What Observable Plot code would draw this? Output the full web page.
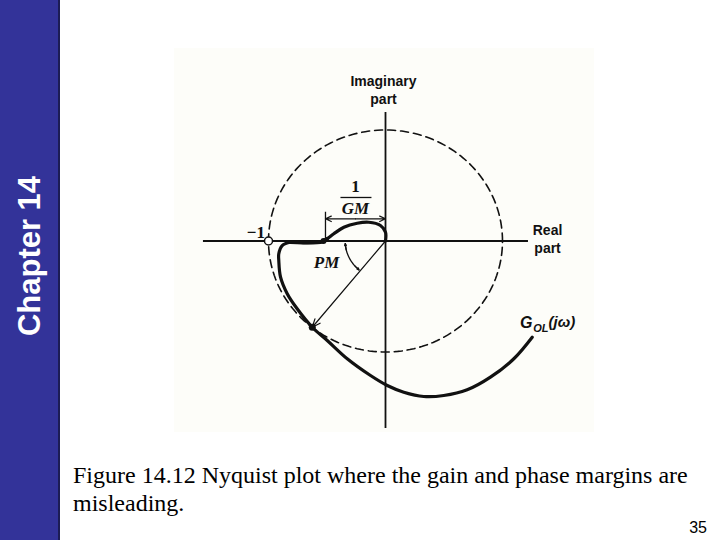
<!DOCTYPE html>
<html>
<head>
<meta charset="utf-8">
<script src="https://cdn.jsdelivr.net/npm/d3@7"></script>
<script src="https://cdn.jsdelivr.net/npm/@observablehq/plot@0.6"></script>
<style>
  html, body { margin: 0; padding: 0; background: #ffffff; }
  #page { position: relative; width: 720px; height: 540px; overflow: hidden; background: #ffffff; }
  #bar { position: absolute; left: 0; top: 0; width: 60px; height: 540px; background: #333399; border-right: 2px solid #1c1c55; box-sizing: border-box; }
  #chapter { position: absolute; left: 30px; top: 256px; transform: translate(-50%, -50%) rotate(-90deg); color: #ffffff; font: bold 31px "Liberation Sans", Arial, sans-serif; white-space: nowrap; }
  #chart { position: absolute; left: 174px; top: 48px; }
  #caption { position: absolute; left: 73px; top: 461px; width: 640px; font: 24px/28px "Liberation Serif", "Times New Roman", serif; color: #000; }
  #pagenum { position: absolute; right: 13px; top: 519px; font: 16px "Liberation Sans", Arial, sans-serif; color: #000; }
</style>
</head>
<body>
<div id="page">
  <div id="bar"><div id="chapter">Chapter 14</div></div>
  <div id="chart"></div>
  <div id="caption">Figure 14.12 Nyquist plot where the gain and phase margins are misleading.</div>
  <div id="pagenum">35</div>
</div>
<script>
// Open-loop frequency response G_OL(jω) (real, imaginary)
const curveRe = [0, 0, -0.043, -0.143, -0.242, -0.356, -0.442, -0.498, -0.540, -0.698, -0.812, -0.883, -0.912, -0.912, -0.897, -0.840, -0.755, -0.626, -0.498, -0.327, -0.128, 0.015, 0.156, 0.327, 0.498, 0.698, 0.897, 1.097, 1.254];
const curveIm = [0, 0.079, 0.140, 0.169, 0.160, 0.124, 0.065, 0.020, -0.005, -0.014, -0.011, -0.041, -0.115, -0.176, -0.326, -0.475, -0.611, -0.777, -0.896, -1.061, -1.212, -1.302, -1.362, -1.401, -1.392, -1.341, -1.227, -1.061, -0.867];

// Key points
const criticalPoint = {re: -1, im: 0};
const gainCrossing = {re: -0.53, im: 0};
const phaseCrossing = {re: -0.626, im: -0.777};
const gmMarkerRe = -0.513;
const gmArrowIm = 0.20;
const gmTickTop = 0.259;
const pmArcRadius = 0.345;
const pmArcAngles = [184, 229];

// Axis extents
const realAxis = [-1.556, 1.222];
const imagAxis = [-1.690, 1.158];

// Labels
const axisLabels = [
  {text: "Imaginary\npart", re: -0.017, im: 1.365},
  {text: "Real\npart", re: 1.385, im: 0.022}
];
const minusOne = [{text: "−1", re: -1.03, im: 0.072}];
const mathLabels = [
  {text: "GM", re: -0.256, im: 0.293},
  {text: "PM", re: -0.504, im: -0.194}
];
const oneLabel = [{text: "1", re: -0.256, im: 0.491}];
const fractionBar = [{x1: -0.385, x2: -0.12, y: 0.392}];
const gLabels = [
  {text: "G", re: 1.150, im: -0.734, size: 16},
  {text: "OL", re: 1.262, im: -0.790, size: 11},
  {text: "(jω)", re: 1.393, im: -0.734, size: 15}
];

const rad = a => a * Math.PI / 180;
const polar = (r, a) => ({re: r * Math.cos(rad(a)), im: r * Math.sin(rad(a))});
const curve = curveRe.map((re, i) => ({re, im: curveIm[i]}));
const unitCircle = d3.range(0, 361, 2).map(a => polar(1, a));
const pmArc = d3.range(pmArcAngles[0], pmArcAngles[1] + 0.1, 1).map(a => polar(pmArcRadius, a));
const pmHeads = [
  {from: polar(pmArcRadius, pmArcAngles[0] + 9), to: polar(pmArcRadius, pmArcAngles[0])},
  {from: polar(pmArcRadius, pmArcAngles[1] - 9), to: polar(pmArcRadius, pmArcAngles[1])}
];
const gmMid = gmMarkerRe / 2;
const gmArrows = [
  {x1: gmMid, x2: gmMarkerRe, y: gmArrowIm},
  {x1: gmMid, x2: 0, y: gmArrowIm}
];
const axisSegment = curve.slice(7, 11);

const W = 420, H = 384;
const plot = Plot.plot({
  width: W,
  height: H,
  margin: 0,
  style: {background: "#fdfdf9", overflow: "visible"},
  x: {domain: [-211 / 117, (W - 211) / 117], range: [0, W], axis: null},
  y: {domain: [-(H - 192.5) / 111, 192.5 / 111], range: [H, 0], axis: null},
  marks: [
    Plot.line(unitCircle, {x: "re", y: "im", stroke: "#111", strokeWidth: 1.6, strokeDasharray: "8,5"}),
    Plot.ruleY([0], {x1: realAxis[0], x2: realAxis[1], stroke: "#111", strokeWidth: 1.8}),
    Plot.ruleX([0], {y1: imagAxis[0], y2: imagAxis[1], stroke: "#111", strokeWidth: 1.8}),
    Plot.line(curve, {x: "re", y: "im", curve: "catmull-rom", stroke: "#111", strokeWidth: 3.2, strokeLinejoin: "round", strokeLinecap: "round"}),
    Plot.line(axisSegment, {x: "re", y: "im", curve: "catmull-rom", stroke: "#111", strokeWidth: 3.8}),
    // 1/GM dimension
    Plot.ruleX([gmMarkerRe], {y1: 0, y2: gmTickTop, stroke: "#111", strokeWidth: 1.3}),
    Plot.arrow(gmArrows, {x1: "x1", x2: "x2", y1: "y", y2: "y", stroke: "#111", strokeWidth: 1.2, headLength: 8, headAngle: 50}),
    Plot.link(fractionBar, {x1: "x1", x2: "x2", y1: "y", y2: "y", stroke: "#111", strokeWidth: 1.3}),
    // PM
    Plot.line(pmArc, {x: "re", y: "im", stroke: "#111", strokeWidth: 1.3}),
    Plot.arrow(pmHeads, {x1: d => d.from.re, y1: d => d.from.im, x2: d => d.to.re, y2: d => d.to.im, stroke: "#111", strokeWidth: 1.3, headLength: 8, headAngle: 50}),
    Plot.arrow([phaseCrossing], {x1: 0, y1: 0, x2: "re", y2: "im", stroke: "#111", strokeWidth: 1.2, headLength: 11, headAngle: 45}),
    Plot.dot([gainCrossing], {x: "re", y: "im", r: 3, fill: "#111"}),
    Plot.dot([phaseCrossing], {x: "re", y: "im", r: 3.5, fill: "#111"}),
    Plot.dot([criticalPoint], {x: "re", y: "im", r: 4, fill: "#fff", stroke: "#111", strokeWidth: 1.5}),
    // Text
    Plot.text(axisLabels, {x: "re", y: "im", text: "text", fontFamily: "Liberation Sans, Arial, sans-serif", fontWeight: "bold", fontSize: 14, lineHeight: 1.25, fill: "#111"}),
    Plot.text(minusOne, {x: "re", y: "im", text: "text", textAnchor: "end", fontFamily: "Liberation Serif, Times New Roman, serif", fontWeight: "bold", fontSize: 17, fill: "#111"}),
    Plot.text(mathLabels, {x: "re", y: "im", text: "text", fontFamily: "Liberation Serif, Times New Roman, serif", fontWeight: "bold", fontStyle: "italic", fontSize: 17, fill: "#111"}),
    Plot.text(oneLabel, {x: "re", y: "im", text: "text", fontFamily: "Liberation Serif, Times New Roman, serif", fontWeight: "bold", fontSize: 17, fill: "#111"}),
    Plot.text(gLabels, {x: "re", y: "im", text: "text", fontSize: d => d.size, fontFamily: "Liberation Sans, Arial, sans-serif", fontWeight: "bold", fontStyle: "italic", textAnchor: "start", fill: "#111"})
  ]
});
document.getElementById("chart").appendChild(plot);
</script>
</body>
</html>
